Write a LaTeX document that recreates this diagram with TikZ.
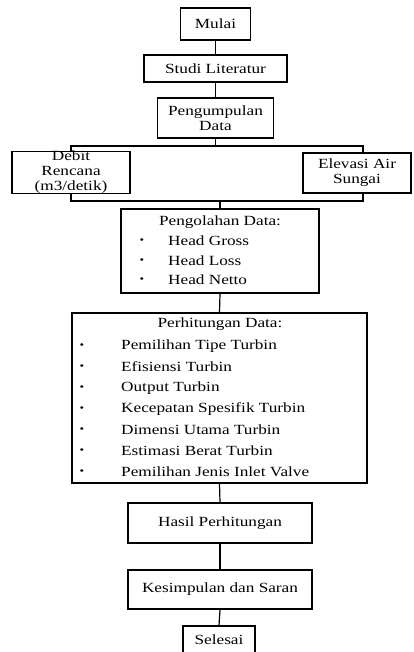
\documentclass[tikz,border=0pt]{standalone}
\usepackage{fontspec}
\setmainfont{Liberation Serif}[FakeStretch=1.23]
\begin{document}
\begin{tikzpicture}[x=1pt,y=-1pt,
  box/.style={draw,line width=1.2pt,inner sep=0pt,align=center,font=\fontsize{14}{15}\selectfont},
  txt/.style={inner sep=0pt,font=\fontsize{14}{15}\selectfont},
  dot/.style={inner sep=0pt,font=\fontsize{10.5}{10.5}\selectfont},
  ln/.style={line width=1.2pt}]
\useasboundingbox (0,0) rectangle (413,652);
\clip (0,0) rectangle (413,652);
\node[box,minimum width=70,minimum height=32] (mulai) at (215.5,24) {Mulai};
\node[box,minimum width=143,minimum height=27] (studi) at (215.5,68.5) {Studi Literatur};
\node[box,minimum width=116,minimum height=40] (kumpul) at (215.5,118) {Pengumpulan\\Data};
\node[box,minimum width=118,minimum height=39] (debit) at (71,172.5) {Debit\\Rencana\\(m3/detik)};
\node[box,minimum width=108,minimum height=40] (elev) at (357,173) {Elevasi Air\\Sungai};
\node[box,minimum width=198,minimum height=84] (olah) at (220,251) {};
\node[box,minimum width=295,minimum height=170] (hitung) at (219.5,398) {};
\node[box,minimum width=184,minimum height=40] (hasil) at (220,523) {Hasil Perhitungan};
\node[box,minimum width=184,minimum height=39] (simpul) at (220,589.5) {Kesimpulan dan Saran};
\node[box,minimum width=72,minimum height=38] (selesai) at (219,645) {};
\node[txt] (selesaiT) at (219,640) {Selesai};
% Pengolahan text
\node[txt] (olahT) at (220,222) {Pengolahan Data:};
\foreach \t/\y [count=\i] in {Head Gross/241,Head Loss/261,Head Netto/280}{
  \node[dot] (ob\i) at (142,\y) {\textbullet};
  \node[txt,anchor=west] (oi\i) at (168,\y) {\t};
}
% Perhitungan text
\node[txt] (hitT) at (220,324) {Perhitungan Data:};
\foreach \t/\y [count=\i] in {Pemilihan Tipe Turbin/346,Efisiensi Turbin/367,Output Turbin/388,Kecepatan Spesifik Turbin/409,Dimensi Utama Turbin/430,Estimasi Berat Turbin/451,Pemilihan Jenis Inlet Valve/472}{
  \node[dot] (hb\i) at (82,\y) {\textbullet};
  \node[txt,anchor=west] (hi\i) at (121,\y) {\t};
}
% connectors
\coordinate (j) at (215.5,146);
\coordinate (jl) at (71,146);
\coordinate (jr) at (363,146);
\coordinate (k) at (220,201);
\coordinate (kl) at (71,201);
\coordinate (kr) at (363,201);
\draw[ln] (mulai.south) -- (studi.north);
\draw[ln] (studi.south) -- (kumpul.north);
\draw[ln] (kumpul.south) -- (j);
\draw[ln] (debit.north) -- (jl) -- (jr) -- (jr |- elev.north);
\draw[ln] (debit.south) -- (kl) -- (kr) -- (kr |- elev.south);
\draw[ln] (k) -- (olah.north);
\draw[ln] (olah.south) -- (hitung.north);
\draw[ln] (hitung.south) -- (hasil.north);
\draw[ln] (hasil.south) -- (simpul.north);
\draw[ln] (simpul.south) -- (selesai.north);
\end{tikzpicture}
\end{document}
